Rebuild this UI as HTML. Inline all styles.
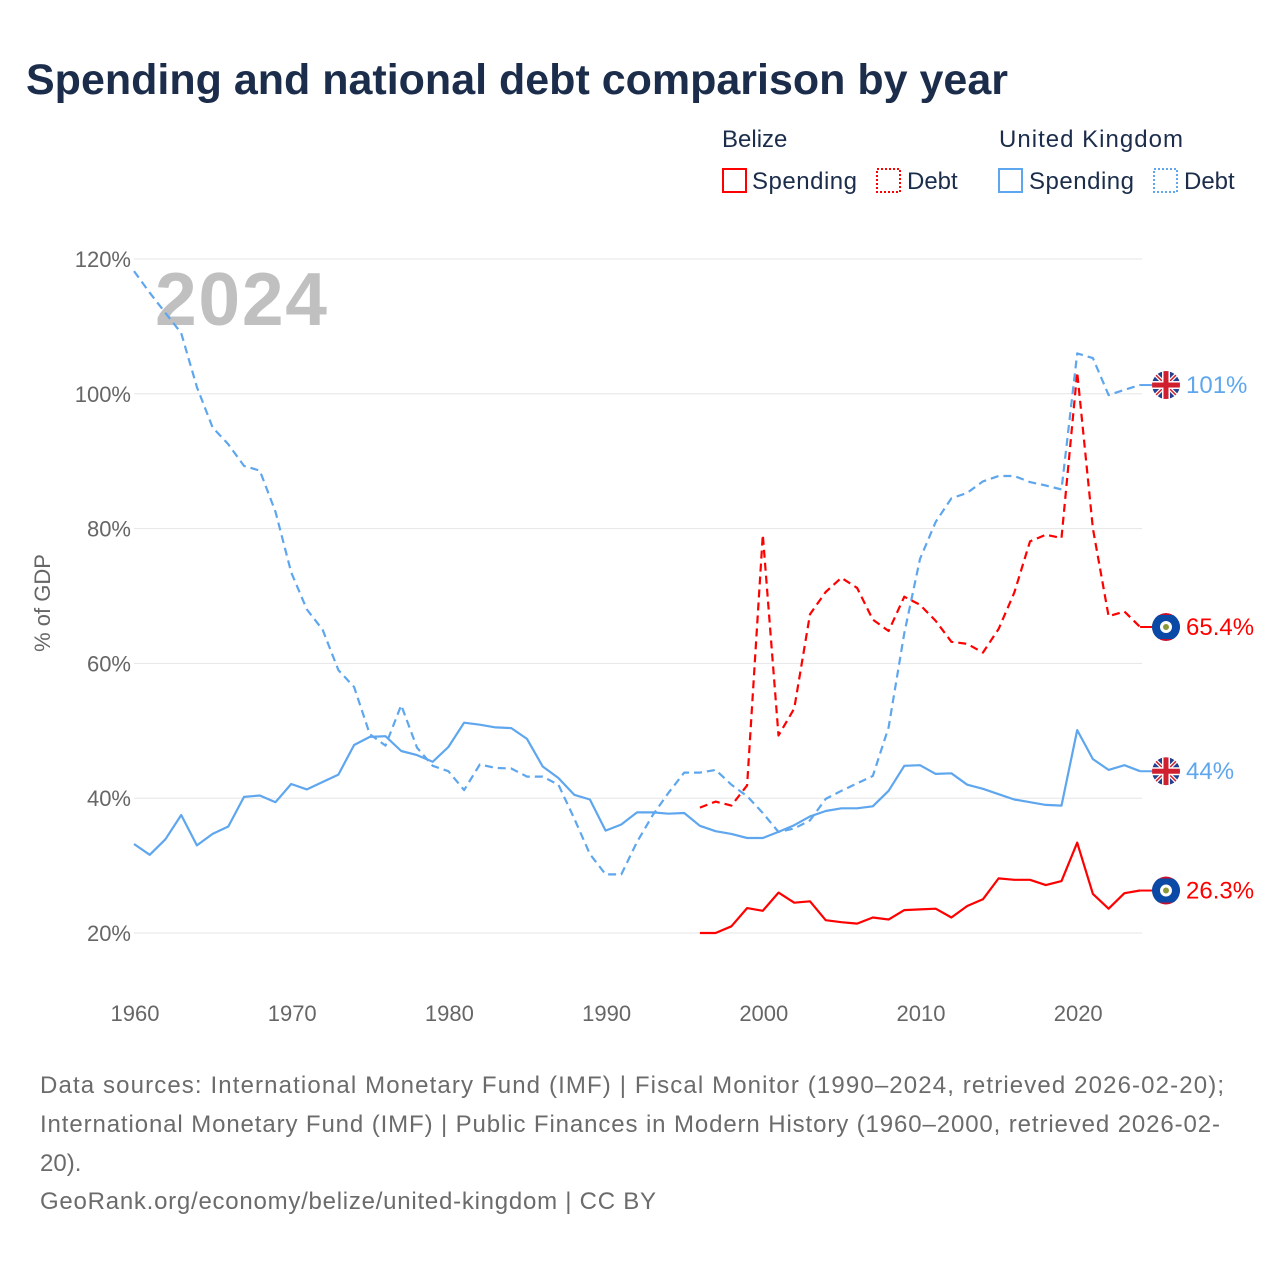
<!DOCTYPE html>
<html><head><meta charset="utf-8">
<style>
body{margin:0;background:#fff;font-family:"Liberation Sans",sans-serif;}
#wrap{position:relative;width:1280px;height:1280px;overflow:hidden;}
</style></head>
<body>
<div id="wrap">
<svg id="chart" width="1280" height="1280">
  <defs><clipPath id="cc"><circle cx="0" cy="0" r="14"/></clipPath></defs>
  <text x="26" y="94" font-size="43" font-weight="bold" fill="#1b2d4b">Spending and national debt comparison by year</text>
  <g font-size="24" fill="#1b2d4b">
    <text x="722" y="147">Belize</text>
    <text x="999" y="147" textLength="184">United Kingdom</text>
    <g><rect x="723" y="169" width="23" height="23" fill="none" stroke="#ff0000" stroke-width="2"/><text x="752" y="189" textLength="105">Spending</text></g>
    <g><rect x="877" y="169" width="23" height="23" fill="none" stroke="#ff0000" stroke-width="2" stroke-dasharray="2,2"/><text x="907" y="189">Debt</text></g>
    <g><rect x="999" y="169" width="23" height="23" fill="none" stroke="#5ea6ee" stroke-width="2"/><text x="1029" y="189" textLength="105">Spending</text></g>
    <g><rect x="1154" y="169" width="23" height="23" fill="none" stroke="#5ea6ee" stroke-width="2" stroke-dasharray="2,2"/><text x="1184" y="189">Debt</text></g>
  </g>
  <g id="grid"></g>
  <text x="155" y="325" font-size="75" font-weight="bold" fill="#c0c0c0" textLength="172">2024</text>
  <text transform="translate(50,603) rotate(-90)" text-anchor="middle" font-size="22" fill="#666">% of GDP</text>
  <g id="series"></g>
  <g id="ends"></g>
  <g font-size="24" fill="#6b6b6b">
    <text x="40" y="1093" textLength="1184">Data sources: International Monetary Fund (IMF) | Fiscal Monitor (1990–2024, retrieved 2026-02-20);</text>
    <text x="40" y="1132" textLength="1180">International Monetary Fund (IMF) | Public Finances in Modern History (1960–2000, retrieved 2026-02-</text>
    <text x="40" y="1171">20).</text>
    <text x="40" y="1209" textLength="616">GeoRank.org/economy/belize/united-kingdom | CC BY</text>
  </g>
</svg>
</div>
<script>
const yTicks = [20, 40, 60, 80, 100, 120];
const xTicks = [1960, 1970, 1980, 1990, 2000, 2010, 2020];
const ukYears0 = 1960;
const ukDebt = [118.2,115,112,109,101,95,92.5,89.3,88.6,82.5,73.5,68,65,59,56.5,49.5,47.8,53.8,47.5,44.8,44,41.2,45,44.5,44.4,43.2,43.2,42,37,31.7,28.7,28.7,33.5,37.5,40.8,43.8,43.8,44.2,42,40.3,37.8,35,35.5,36.7,39.9,41.1,42.2,43.3,50.5,64.5,75.5,81,84.5,85.3,87,87.8,87.8,86.9,86.4,85.8,106,105.3,99.8,100.6,101.3];
const ukSpending = [33.2,31.6,33.9,37.5,33,34.7,35.8,40.2,40.4,39.4,42.1,41.3,42.4,43.5,47.9,49.1,49.2,47,46.4,45.4,47.6,51.2,50.9,50.5,50.4,48.8,44.7,43,40.5,39.8,35.2,36.1,37.9,37.9,37.7,37.8,35.9,35.1,34.7,34.1,34.1,35,36,37.3,38.1,38.5,38.5,38.8,41.1,44.8,44.9,43.6,43.7,42,41.4,40.6,39.8,39.4,39,38.9,50.1,45.8,44.2,44.9,44];
const bzYears0 = 1996;
const bzDebt = [38.6,39.5,38.9,41.9,79.1,49.3,53.3,67.3,70.6,72.7,71.2,66.5,64.8,69.9,68.7,66.3,63.2,62.9,61.6,65.1,70.5,78.1,79.1,78.6,103.2,80,67,67.7,65.4];
const bzSpending = [20,20,21,23.7,23.3,26,24.5,24.7,21.9,21.6,21.4,22.3,22,23.4,23.5,23.6,22.3,24,25,28.1,27.9,27.9,27.1,27.7,33.4,25.8,23.6,25.9,26.3];
const endLabels = ['101%','65.4%','44%','26.3%'];

const NS='http://www.w3.org/2000/svg';
const X = yr => 134 + (yr-1960)*15.72;
const Y = v => 933 - (v-20)*6.74;
function mk(tag, attrs, parent){const e=document.createElementNS(NS,tag);for(const k in attrs)e.setAttribute(k,attrs[k]);parent.appendChild(e);return e;}
const grid=document.getElementById('grid');
yTicks.forEach(t=>{
  const l=mk('line',{x1:134,x2:1142,y1:Y(t),y2:Y(t),stroke:'#e6e6e6','stroke-width':1},grid);
  
  
  const tx=mk('text',{x:131,y:Y(t)+8,'text-anchor':'end','font-size':22,fill:'#666'},grid);
  tx.textContent=t+'%';
  
  
});
xTicks.forEach(t=>{
  const tx=mk('text',{x:X(t)+1,y:1021,'text-anchor':'middle','font-size':22,fill:'#666'},grid);
  tx.textContent=t;
  
  
});
const ser=document.getElementById('series');
function line(vals,y0,color,dash,name){
  const pts=vals.map((v,i)=>X(y0+i).toFixed(1)+','+Y(v).toFixed(1)).join(' ');
  const p=mk('polyline',{points:pts,fill:'none',stroke:color,'stroke-width':2.2,'stroke-linejoin':'round'},ser);
  if(dash)p.setAttribute('stroke-dasharray','8,5');
  
  
}
line(ukSpending,ukYears0,'#5ea6ee',false,'uk-spending-line');
line(ukDebt,ukYears0,'#5ea6ee',true,'uk-debt-line');
line(bzSpending,bzYears0,'#ff0000',false,'belize-spending-line');
line(bzDebt,bzYears0,'#ff0000',true,'belize-debt-line');
const ends=document.getElementById('ends');
function ukFlag(cx,cy,name){
  const g=mk('g',{transform:'translate('+cx+','+cy+')','clip-path':'url(#cc)'},ends);
  
  
  mk('circle',{cx:0,cy:0,r:14,fill:'#233f8f'},g);
  mk('line',{x1:-14,y1:-14,x2:14,y2:14,stroke:'#fff','stroke-width':4},g);
  mk('line',{x1:-14,y1:14,x2:14,y2:-14,stroke:'#fff','stroke-width':4},g);
  mk('line',{x1:-14,y1:-14,x2:14,y2:14,stroke:'#d0202f','stroke-width':1.5},g);
  mk('line',{x1:-14,y1:14,x2:14,y2:-14,stroke:'#d0202f','stroke-width':1.5},g);
  mk('rect',{x:-14,y:-4,width:28,height:8,fill:'#fff'},g);
  mk('rect',{x:-4,y:-14,width:8,height:28,fill:'#fff'},g);
  mk('rect',{x:-14,y:-2.5,width:28,height:5,fill:'#d0202f'},g);
  mk('rect',{x:-2.5,y:-14,width:5,height:28,fill:'#d0202f'},g);
}
function bzFlag(cx,cy,name){
  const g=mk('g',{transform:'translate('+cx+','+cy+')','clip-path':'url(#cc)'},ends);
  
  
  mk('circle',{cx:0,cy:0,r:14,fill:'#c8102e'},g);
  mk('rect',{x:-14,y:-12,width:28,height:24,fill:'#0a4aa6'},g);
  mk('circle',{cx:0,cy:0,r:6,fill:'#fff'},g);
  mk('circle',{cx:0,cy:0,r:3,fill:'#8a9a3a'},g);
}
const lastX=X(2024);
const endData=[[ukDebt[ukDebt.length-1],'#5ea6ee','uk'],[bzDebt[bzDebt.length-1],'#ff0000','bz'],[ukSpending[ukSpending.length-1],'#5ea6ee','uk'],[bzSpending[bzSpending.length-1],'#ff0000','bz']];
endData.forEach((d,i)=>{
  const cy=Y(d[0]);
  mk('line',{x1:lastX,x2:1152,y1:cy,y2:cy,stroke:d[1],'stroke-width':2},ends);
  if(d[2]==='uk')ukFlag(1166,cy,'flag-uk-'+i);else bzFlag(1166,cy,'flag-belize-'+i);
  const t=mk('text',{x:1186,y:cy+8,'font-size':24,fill:d[1]},ends);
  t.textContent=endLabels[i];
  
  
});
</script>
</body></html>
